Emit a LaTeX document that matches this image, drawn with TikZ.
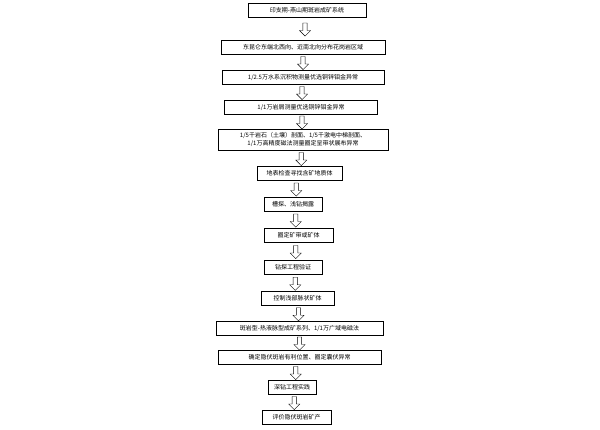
\documentclass[tikz,border=0pt]{standalone}
\usepackage{fontspec}
\setmainfont{Noto Sans CJK SC}
\usetikzlibrary{shapes.arrows,calc}
\tikzset{
  stepbox/.style={draw, thick, fill=white, inner sep=1pt, minimum height=14pt, font=\fontsize{6}{7.5}\selectfont, align=center},
  downarrow/.style={single arrow, draw, fill=white, rotate=-90, minimum height=13pt, minimum width=11pt, single arrow head extend=2pt, inner sep=1pt}
}
\def\go#1#2{\node[downarrow] at ($(#1.south)!0.5!(#2.north)$) {};}
\begin{document}
\begin{tikzpicture}[x=1pt,y=-1pt]
        \useasboundingbox (0,0) rectangle (600,429);
        \node[stepbox, minimum width=118pt] (s1) at (307,10) {印支期-燕山期斑岩成矿系统};
        \node[stepbox, minimum width=164pt] (s2) at (303,47) {东昆仑东端北西向、近南北向分布花岗岩区域};
        \node[stepbox, minimum width=162pt] (s3) at (303,77) {1/2.5万水系沉积物测量优选铜锌钼金异常};
        \node[stepbox, minimum width=153pt] (s4) at (301,107) {1/1万岩屑测量优选铜锌钼金异常};
        \node[stepbox, minimum width=170pt, minimum height=21pt] (s5) at (303,139.5) {1/5千岩石（土壤）剖面、1/5千激电中梯剖面、\\1/1万高精度磁法测量圈定呈带状展布异常};
        \node[stepbox, minimum width=85pt] (s6) at (299.5,173) {地表检查寻找含矿地质体};
        \node[stepbox, minimum width=58pt] (s7) at (293,204) {槽探、浅钻揭露};
        \node[stepbox, minimum width=69pt] (s8) at (298.5,235) {圈定矿带或矿体};
        \node[stepbox, minimum width=58pt] (s9) at (293,267) {钻探工程验证};
        \node[stepbox, minimum width=73pt] (s10) at (297.5,298.5) {控制浅部脉状矿体};
        \node[stepbox, minimum width=167pt] (s11) at (299.5,328) {斑岩型-热液脉型成矿系列、1/1万广域电磁法};
        \node[stepbox, minimum width=163pt] (s12) at (299.5,357) {确定隐伏斑岩有利位置、圈定囊伏异常};
        \node[stepbox, minimum width=48pt] (s13) at (292,387) {深钻工程实践};
        \node[stepbox, minimum width=69pt] (s14) at (296.5,417) {评价隐伏斑岩矿产};
        \foreach \a/\b in {s1/s2,s2/s3,s3/s4,s4/s5,s5/s6,s6/s7,s7/s8,s8/s9,s9/s10,s10/s11,s11/s12,s12/s13,s13/s14}{
        \go{\a}{\b}
        }
      \end{tikzpicture}
\end{document}
